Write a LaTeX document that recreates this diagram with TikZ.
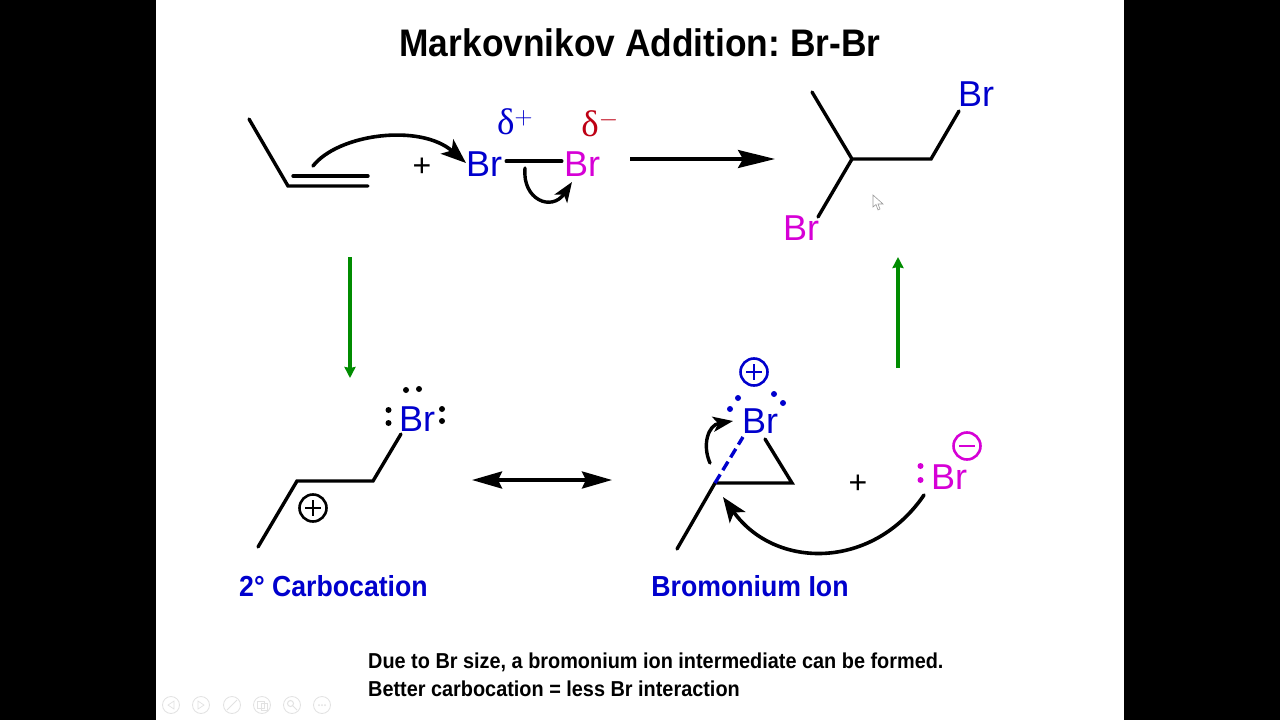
\documentclass[tikz,border=0pt]{standalone}
\usepackage{fontspec}
\setmainfont{Liberation Sans}
\newfontfamily\narrowfont[FakeStretch=0.92]{Liberation Sans}
\newfontfamily\deltafont{Liberation Serif}
\usetikzlibrary{arrows.meta}
\definecolor{brblue}{RGB}{0,0,205}
\definecolor{brpink}{RGB}{214,0,214}
\definecolor{deltared}{RGB}{190,0,20}
\definecolor{arrowgreen}{RGB}{0,140,0}
\definecolor{iconGray}{RGB}{226,226,226}
\frenchspacing
\tikzset{
    %Define atom labels
    atom/.style={anchor=base,inner sep=1pt,font=\fontsize{36}{38}\selectfont},
    partial/.style={anchor=base,inner sep=0pt,font=\deltafont\fontsize{37}{40}\selectfont},
    %Define titles and captions
    heading/.style={anchor=base,inner sep=0pt,font=\narrowfont\bfseries\fontsize{29}{33}\selectfont,text=brblue},
    caption/.style={anchor=base west,inner sep=0pt,font=\narrowfont\bfseries\fontsize{21.6}{26}\selectfont},
    plus/.style={inner sep=0pt,font=\fontsize{32}{34}\selectfont},
    charge/.style={circle,draw,line width=2.6pt,minimum size=27pt,inner sep=0pt},
    dot/.style={circle,fill,minimum size=6pt,inner sep=0pt},
    %Define lines and arrows
    bond/.style={line width=3.4pt,line cap=round,line join=miter},
    curly/.style={line width=3.6pt,line cap=round,-{Stealth[length=25pt,width=19pt,inset=6pt]}},
    curlysmall/.style={line width=3.4pt,line cap=round,-{Stealth[length=20pt,width=15pt,inset=5pt]}},
    react/.style={line width=3.4pt,-{Stealth[length=37pt,width=18pt,inset=5pt]}},
    equil/.style={line width=3.4pt,{Stealth[length=30pt,width=17pt,inset=4pt]}-{Stealth[length=30pt,width=17pt,inset=4pt]}},
    mech/.style={line width=3.6pt,draw=arrowgreen,-{Stealth[length=11pt,width=11pt,inset=1pt]}},
    icon/.style={circle,draw=iconGray,line width=.8pt,minimum size=17pt,inner sep=0pt}
}
\begin{document}
\begin{tikzpicture}[x=1pt,y=-1pt]
    \useasboundingbox (0,0) rectangle (1280,720);
    \fill[black] (0,0) rectangle (1280,720);
    \fill[white] (156,0) rectangle (1124,720);
    \node (title) [anchor=base,inner sep=0pt,font=\narrowfont\bfseries\fontsize{38.4}{40}\selectfont]
          at (640,56) {Markovnikov Addition: Br-Br};
    % alkene + bromine
    \coordinate (me) at (249,119);
    \coordinate (cA) at (288,186);
    \coordinate (cB) at (368,186);
    \coordinate (piA) at (293,176);
    \coordinate (piB) at (368,176);
    \draw[bond] (me) -- (cA) -- (cB);
    \draw[bond] (piA) -- (piB);
    \node (plusA) [plus] at (422,167) {+};
    \node (brA) [atom,text=brblue] at (484,176) {Br};
    \node (brB) [atom,text=brpink] at (582,176) {Br};
    \node (dplus) [partial,text=brblue] at (515,134) {δ$^{+}$};
    \node (dminus) [partial,text=deltared] at (600,136) {δ$^{-}$};
    \draw[bond] ([yshift=2.5pt]brA.east) ++(3,0) -- ([yshift=2.5pt,xshift=-1pt]brB.west);
    \coordinate (piC) at (313,166);
    \coordinate (tipA) at (466,163);
    \draw[curly] (piC) .. controls (338,134) and (420,123) .. (tipA);
    \coordinate (sigma) at (525,168);
    \coordinate (tipB) at (572,182);
    \draw[curlysmall] (sigma) .. controls (522,200) and (552,212) .. (tipB);
    \draw[react] (630,159) -- (775,159);
    % product
    \node (brC) [atom,text=brblue] at (976,106) {Br};
    \node (brD) [atom,text=brpink] at (801,240) {Br};
    \coordinate (meP) at (812,92);
    \coordinate (cC) at (852,159);
    \coordinate (cD) at (931,159);
    \coordinate (endC) at (959,111);
    \coordinate (endD) at (818,217);
    \draw[bond] (meP) -- (cC) -- (cD) -- (endC);
    \draw[bond] (cC) -- (endD);
    % green arrows
    \draw[mech] (350,257) -- (350,378);
    \draw[mech] (898,368) -- (898,257);
    % carbocation
    \coordinate (meQ) at (258,547);
    \coordinate (cE) at (297,481);
    \coordinate (cF) at (373,481);
    \coordinate (endE) at (401,434);
    \draw[bond] (meQ) -- (cE) -- (cF) -- (endE);
    \node (brE) [atom,text=brblue] at (417,431) {Br};
    \foreach \px/\py in {406/390,419/389,388.5/410,388.5/423,442/409,442/421}
        \node[dot] at (\px,\py) {};
    \node (chargeA) [charge] at (313,508) {};
    \draw[line width=2.6pt] (305,508) -- (321,508) (313,500) -- (313,516);
    \draw[equil] (472,480) -- (612,480);
    % bromonium
    \coordinate (meR) at (677,549);
    \coordinate (cG) at (715,483);
    \coordinate (cH) at (792,483);
    \coordinate (endG) at (765,439);
    \coordinate (endH) at (743,437);
    \draw[bond] (meR) -- (cG) -- (cH) -- (endG);
    \draw[bond,draw=brblue,line cap=butt,dash pattern=on 10pt off 5pt] (cG) -- (endH);
    \node (brF) [atom,text=brblue] at (760,433) {Br};
    \node (chargeB) [charge,draw=brblue] at (754,372) {};
    \draw[line width=2.6pt,draw=brblue] (746,372) -- (762,372) (754,364) -- (754,380);
    \foreach \px/\py in {738/398,730/409,774/394,783/403}
        \node[dot,fill=brblue] at (\px,\py) {};
    \coordinate (bondG) at (710,463);
    \coordinate (tipG) at (733,421);
    \draw[curlysmall] (bondG) .. controls (702,445) and (708,425) .. (tipG);
    \node (plusB) [plus] at (858,484) {+};
    \node (brG) [atom,text=brpink] at (949,489) {Br};
    \node (chargeC) [charge,draw=brpink] at (967,446) {};
    \draw[line width=2.6pt,draw=brpink] (959,446) -- (975,446);
    \foreach \py in {466,480}
        \node[dot,fill=brpink] at (920.5,\py) {};
    \coordinate (lonepair) at (924,495);
    \coordinate (tipH) at (723,497);
    \draw[curly] (lonepair) .. controls (873,570) and (775,570) .. (tipH);
    % labels
    \node (carbo) [heading] at (333.5,596) {2° Carbocation};
    \node (bromo) [heading] at (750,596) {Bromonium Ion};
    \node (noteA) [caption] at (368,668) {Due to Br size, a bromonium ion intermediate can be formed.};
    \node (noteB) [caption] at (368,696) {Better carbocation = less Br interaction};
    % slide show controls
    \foreach \ix in {171,201,232,262,292,322}
        \node[icon] at (\ix,705) {};
    \draw[iconGray,line width=.7pt] (174,701) -- (168,705) -- (174,709) -- cycle;
    \draw[iconGray,line width=.7pt] (198,701) -- (204,705) -- (198,709) -- cycle;
    \draw[iconGray,line width=1pt] (227,710) -- (237,700);
    \draw[iconGray,line width=.7pt] (257,701) rectangle (264,708) (261,703) rectangle (267,710);
    \draw[iconGray,line width=1pt] (290.5,703.5) circle (3pt) (293,706) -- (297,710);
    \foreach \ix in {319,322,325}
        \fill[iconGray] (\ix,705) circle (1pt);
    % cursor
    \draw[gray!80,fill=white,line width=.6pt] (873,195) -- (873,207) -- (876,204.5) -- (878,210) -- (880,209) -- (878,204) -- (883,204) -- cycle;
\end{tikzpicture}
\end{document}
